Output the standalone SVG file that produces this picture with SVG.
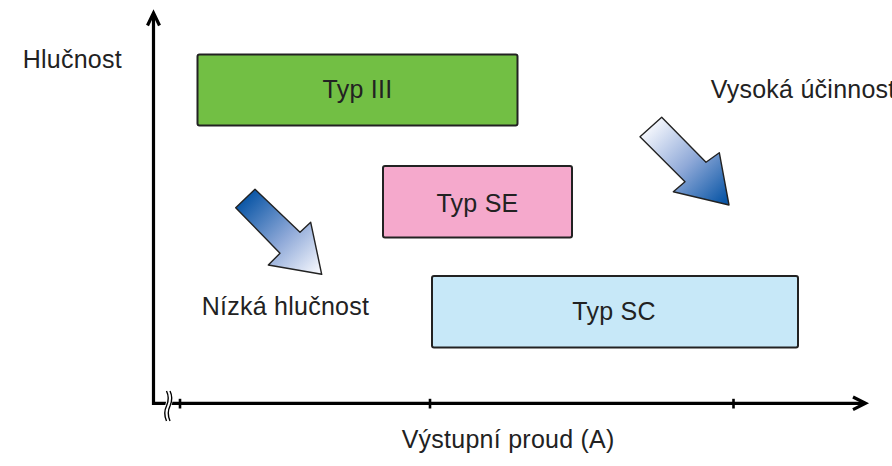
<svg xmlns="http://www.w3.org/2000/svg" width="892" height="466" viewBox="0 0 892 466">
<defs>
<style>
.lbl{font-family:"Liberation Sans",Arial,Helvetica,sans-serif;font-size:25px;letter-spacing:0.25px;fill:#222}
.box{stroke:#222;stroke-width:2}
.axis{stroke:#000;stroke-width:3.2;fill:none}
.tick{stroke:#000;stroke-width:2.6}
.big{stroke:#222;stroke-width:1.4;stroke-linejoin:round}
</style>
<linearGradient id="gL" gradientUnits="userSpaceOnUse" x1="245" y1="198" x2="318" y2="271">
<stop offset="0" stop-color="#0a56a6"/>
<stop offset="0.55" stop-color="#8fa9d8"/>
<stop offset="1" stop-color="#f2f5fc"/>
</linearGradient>
<linearGradient id="gR" gradientUnits="userSpaceOnUse" x1="651" y1="127" x2="725" y2="201">
<stop offset="0" stop-color="#f2f5fc"/>
<stop offset="0.5" stop-color="#8fa9d8"/>
<stop offset="1" stop-color="#0a56a6"/>
</linearGradient>
</defs>
<rect width="892" height="466" fill="#fff"/>
<g id="axes">
<path class="axis" d="M153.5 14 V403.3 H865"/>
<path class="axis" d="M147.5 25.5 L153.5 13 L159.5 25.5"/>
<path class="axis" d="M853 397 L865.5 403.3 L853 409.6"/>
<line class="tick" x1="180" y1="398.8" x2="180" y2="408.5"/>
<line class="tick" x1="430" y1="398.8" x2="430" y2="408.5"/>
<line class="tick" x1="733.5" y1="398.8" x2="733.5" y2="408.5"/>
<path d="M168 391 q3.5 7 0 15 q-3.5 7 0 15" fill="none" stroke="#fff" stroke-width="6"/>
<path d="M166.5 391 q3.5 7 0 15 q-3.5 7 0 15 M170 391 q3.5 7 0 15 q-3.5 7 0 15" fill="none" stroke="#000" stroke-width="1.4"/>
</g>
<g id="typ-iii">
<rect class="box" x="197.5" y="54.5" width="320" height="71" rx="2" fill="#72bf44"/>
<text class="lbl" x="357.5" y="98.3" text-anchor="middle">Typ III</text>
</g>
<g id="typ-se">
<rect class="box" x="383" y="166" width="189" height="71.5" rx="2" fill="#f5a9cc"/>
<text class="lbl" x="477.5" y="211.7" text-anchor="middle">Typ SE</text>
</g>
<g id="typ-sc">
<rect class="box" x="432" y="276" width="366" height="71.5" rx="2" fill="#c7e8f8"/>
<text class="lbl" x="614" y="320" text-anchor="middle">Typ SC</text>
</g>
<g id="arrow-low">
<polygon class="big" fill="url(#gL)" points="235.7,207.7 255,189.3 300,232.3 310.7,222.3 321.7,274.3 268.3,265 280,253.3"/>
</g>
<g id="arrow-high">
<polygon class="big" fill="url(#gR)" points="640,136.7 661.7,117.3 706,162.3 719.3,152.7 729,205 673.3,191.7 685,181.7"/>
</g>
<g id="labels">
<text class="lbl" x="22.7" y="68.3">Hlučnost</text>
<text class="lbl" x="710.7" y="98.3">Vysoká účinnost</text>
<text class="lbl" x="201.7" y="315">Nízká hlučnost</text>
<text class="lbl" x="401.7" y="448.3">Výstupní proud (A)</text>
</g>
</svg>
